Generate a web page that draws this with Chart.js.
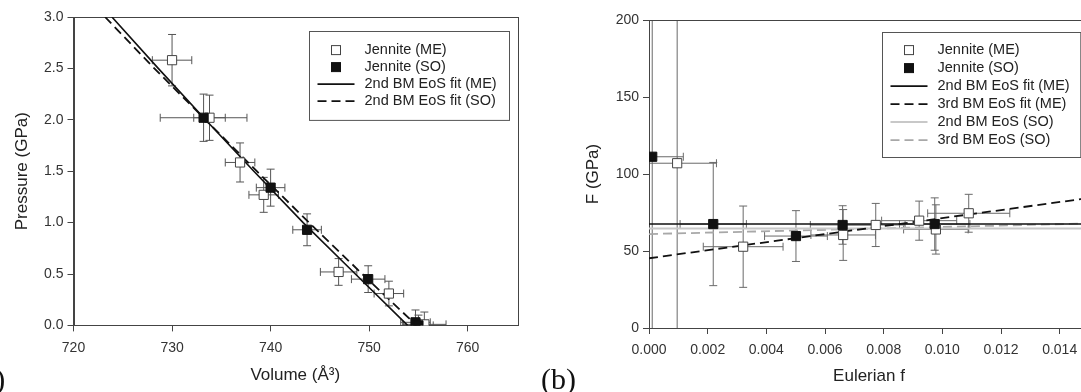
<!DOCTYPE html>
<html>
<head>
<meta charset="utf-8">
<script src="https://cdn.jsdelivr.net/npm/chart.js@4.4.1/dist/chart.umd.min.js"></script>
<style>
html, body { margin:0; padding:0; background:#fff; overflow:hidden; width:1081px; height:392px; }
#wrapA { position:absolute; left:0; top:0; }
#wrapB { position:absolute; left:540px; top:0; }
.panel { position:absolute; font-family:"Liberation Serif", serif; font-size:30px; line-height:30px; color:#111; }
</style>
</head>
<body>
<div id="wrapA"><canvas id="chartA" width="540" height="392"></canvas></div>
<div id="wrapB"><canvas id="chartB" width="560" height="392"></canvas></div>
<span class="panel" style="left:-28px;top:364px;">(a)</span>
<span class="panel" style="left:541px;top:364px;">(b)</span>
<script>
// ---- panel (a): pressure vs volume ----
var volME = [730.0, 733.8, 736.9, 739.3, 746.9, 752.0, 755.6];
var presME = [2.58, 2.02, 1.585, 1.27, 0.52, 0.31, 0.01];
var volErrME = [2.0, 1.6, 1.5, 1.5, 1.85, 1.5, 2.2];
var presErrME = [0.25, 0.22, 0.19, 0.17, 0.13, 0.12, 0.12];

var volSO = [733.2, 740.0, 743.7, 749.9, 754.7, 755.0];
var presSO = [2.02, 1.34, 0.93, 0.45, 0.03, 0.0];
var volErrSO = [4.4, 1.45, 1.45, 1.7, 1.5, 1.5];
var presErrSO = [0.23, 0.18, 0.155, 0.13, 0.12, 0.1];

// fit curves
var fitPres = [3.0, 2.5, 2.0, 1.5, 1.0, 0.5, 0.0];
var fitVolME = [723.9, 728.6, 733.4, 738.3, 743.3, 748.6, 753.9];
var fitVolSO = [723.2, 728.2, 733.4, 738.6, 743.9, 749.3, 754.8];

// ---- panel (b): normalized pressure F vs Eulerian strain f ----
var fME = [0.00096, 0.00321, 0.00662, 0.00773, 0.00921, 0.00978, 0.0109];
var FME = [107.0, 52.8, 60.4, 66.9, 69.7, 64.0, 74.5];
var fErrME = [0.00134, 0.00136, 0.0011, 0.0010, 0.00128, 0.0011, 0.0014];
var FErrME = [320, 26.4, 16.5, 14.0, 12.7, 16.0, 12.3];

var fSO = [0.00011, 0.00219, 0.00501, 0.0066, 0.00974];
var FSO = [111.2, 67.5, 59.7, 66.9, 67.5];
var fErrSO = [0.00106, 0.00113, 0.00107, 0.0011, 0.0012];
var FErrSO = [320, 40, 16.5, 12.5, 17];

var fLine = [0, 0.015];
var fit2ME = [67.5, 67.5];
var fit3ME = [45.3, 84.4];
var eos2SO = [64.6, 64.6];
var eos3SO = [61.0, 67.9];

var FONT = '"Liberation Sans", Arial, sans-serif';

//build {x,y} points (with optional errors) from the arrays
function points(xs, ys, xe, ye){
   var out = [];
   for (var i = 0; i < xs.length; i++) {
      var p = {x: xs[i], y: ys[i]};
      if (xe) { p.xErr = xe[i]; p.yErr = ye[i]; }
      out.push(p);
   }
   return out;
}

//draw x and y error bars behind the markers
var errorBarPlugin = {
   id: 'errorBars',
   beforeDatasetsDraw: function(chart){
      var ctx = chart.ctx, area = chart.chartArea;
      var xs = chart.scales.x, ys = chart.scales.y;
      ctx.save();
      ctx.beginPath();
      ctx.rect(area.left, area.top, area.right - area.left, area.bottom - area.top);
      ctx.clip();
      chart.data.datasets.forEach(function(ds){
         if (!ds.errorColor) return;
         ctx.strokeStyle = ds.errorColor;
         ctx.lineWidth = 1;
         ds.data.forEach(function(p){
            var cx = xs.getPixelForValue(p.x), cy = ys.getPixelForValue(p.y);
            var x1 = xs.getPixelForValue(p.x - p.xErr), x2 = xs.getPixelForValue(p.x + p.xErr);
            var y1 = ys.getPixelForValue(p.y + p.yErr), y2 = ys.getPixelForValue(p.y - p.yErr);
            var c = 4;
            ctx.beginPath();
            ctx.moveTo(x1, cy); ctx.lineTo(x2, cy);
            ctx.moveTo(x1, cy - c); ctx.lineTo(x1, cy + c);
            ctx.moveTo(x2, cy - c); ctx.lineTo(x2, cy + c);
            ctx.moveTo(cx, y1); ctx.lineTo(cx, y2);
            ctx.moveTo(cx - c, y1); ctx.lineTo(cx + c, y1);
            ctx.moveTo(cx - c, y2); ctx.lineTo(cx + c, y2);
            ctx.stroke();
         });
      });
      ctx.restore();
      //frame round the plot area
      ctx.save();
      ctx.strokeStyle = '#444';
      ctx.lineWidth = 1;
      ctx.strokeRect(Math.round(area.left) + 0.5, Math.round(area.top) + 0.5,
         Math.round(area.right - area.left), Math.round(area.bottom - area.top));
      ctx.restore();
   }
};

//legend drawn inside the plot, in a box
var boxLegendPlugin = {
   id: 'boxLegend',
   afterDraw: function(chart, args, opts){
      var ctx = chart.ctx, area = chart.chartArea;
      var items = chart.data.datasets;
      var bx = Math.round(area.left + opts.left) + 0.5, by = Math.round(area.top + opts.top) + 0.5;
      var bh = opts.firstRow + (items.length - 1) * opts.rowHeight + opts.bottomPad;
      ctx.save();
      ctx.fillStyle = '#fff';
      ctx.fillRect(bx, by, opts.width, bh);
      ctx.strokeStyle = '#555';
      ctx.lineWidth = 1;
      ctx.strokeRect(bx, by, opts.width, bh);
      ctx.font = '14.5px ' + FONT;
      ctx.textBaseline = 'middle';
      items.forEach(function(ds, i){
         var ry = by + opts.firstRow + i * opts.rowHeight;
         if (ds.showLine) {
            ctx.strokeStyle = ds.borderColor;
            ctx.lineWidth = ds.borderWidth;
            ctx.setLineDash(ds.borderDash || []);
            ctx.beginPath();
            ctx.moveTo(bx + 8, ry); ctx.lineTo(bx + 45, ry);
            ctx.stroke();
            ctx.setLineDash([]);
         } else {
            ctx.fillStyle = ds.backgroundColor;
            ctx.strokeStyle = ds.borderColor;
            ctx.lineWidth = 1;
            ctx.fillRect(bx + 22, ry - 4.5, 9, 9);
            ctx.strokeRect(bx + 22, ry - 4.5, 9, 9);
         }
         ctx.fillStyle = '#222';
         ctx.fillText(ds.label, bx + 55, ry);
      });
      ctx.restore();
   }
};

function axis(min, max, step, title, titlePad, decimals, size, horizontal){
   return {
      type: 'linear',
      min: min,
      max: max,
      border: {color: '#444', width: 1},
      grid: {drawOnChartArea: false, drawTicks: true, tickLength: 6, color: '#444'},
      ticks: {
         stepSize: step,
         includeBounds: false,
         color: '#333',
         padding: horizontal ? 8 : 4,
         font: {family: FONT, size: 14},
         maxRotation: 0,
         callback: function(v){ return v.toFixed(decimals); }
      },
      title: {
         display: true,
         text: title,
         color: '#222',
         font: {family: FONT, size: 17},
         padding: titlePad
      },
      afterFit: function(scale){
         if (horizontal) { scale.height = size; } else { scale.width = size; }
      }
   };
}

function pointSet(label, data, filled, errColor, order){
   return {
      label: label,
      data: data,
      showLine: false,
      pointStyle: 'rect',
      pointRadius: 6.5,
      backgroundColor: filled ? '#111' : '#fff',
      borderColor: filled ? '#111' : '#444',
      pointBorderWidth: 1,
      errorColor: errColor,
      order: order
   };
}

function lineSet(label, data, color, width, dash, order){
   return {
      label: label,
      data: data,
      showLine: true,
      pointRadius: 0,
      borderColor: color,
      backgroundColor: color,
      borderWidth: width,
      borderDash: dash,
      order: order
   };
}

//panel (a)
new Chart(document.getElementById('chartA').getContext('2d'), {
   type: 'scatter',
   data: {
      datasets: [
         pointSet('Jennite (ME)', points(volME, presME, volErrME, presErrME), false, '#555', 1),
         pointSet('Jennite (SO)', points(volSO, presSO, volErrSO, presErrSO), true, '#555', 0),
         lineSet('2nd BM EoS fit (ME)', points(fitVolME, fitPres), '#111', 1.6, [], 2),
         lineSet('2nd BM EoS fit (SO)', points(fitVolSO, fitPres), '#111', 1.8, [9, 5], 3)
      ]
   },
   options: {
      responsive: false,
      animation: false,
      layout: {padding: {top: 17, right: 23, left: 0, bottom: 0}},
      scales: {
         x: axis(720, 765, 10, 'Volume (Å³)', {top: 0, bottom: 6}, 0, 66.6, true),
         y: axis(0, 3, 0.5, 'Pressure (GPa)', {top: 12, bottom: 0}, 1, 73.5, false)
      },
      plugins: {
         legend: {display: false},
         tooltip: {enabled: false},
         boxLegend: {left: 235, top: 14, width: 200, firstRow: 18.6, rowHeight: 17, bottomPad: 19.3}
      }
   },
   plugins: [errorBarPlugin, boxLegendPlugin]
});

//panel (b)
new Chart(document.getElementById('chartB').getContext('2d'), {
   type: 'scatter',
   data: {
      datasets: [
         pointSet('Jennite (ME)', points(fME, FME, fErrME, FErrME), false, '#6a6a6a', 1),
         pointSet('Jennite (SO)', points(fSO, FSO, fErrSO, FErrSO), true, '#6a6a6a', 0),
         lineSet('2nd BM EoS fit (ME)', points(fLine, fit2ME), '#111', 1.6, [], 2),
         lineSet('3rd BM EoS fit (ME)', points(fLine, fit3ME), '#111', 1.8, [9, 5], 3),
         lineSet('2nd BM EoS (SO)', points(fLine, eos2SO), '#c8c8c8', 2, [], 4),
         lineSet('3rd BM EoS (SO)', points(fLine, eos3SO), '#a8a8a8', 1.8, [9, 5], 5)
      ]
   },
   options: {
      responsive: false,
      animation: false,
      layout: {padding: {top: 20, right: 11, left: 0, bottom: 0}},
      scales: {
         x: axis(0, 0.015, 0.002, 'Eulerian f', {top: 0, bottom: 5.4}, 3, 64, true),
         y: axis(0, 200, 50, 'F (GPa)', {top: 43, bottom: 0}, 0, 109, false)
      },
      plugins: {
         legend: {display: false},
         tooltip: {enabled: false},
         boxLegend: {left: 232.7, top: 11.7, width: 198.3, firstRow: 17.6, rowHeight: 18, bottomPad: 17.4}
      }
   },
   plugins: [errorBarPlugin, boxLegendPlugin]
});
</script>
</body>
</html>
